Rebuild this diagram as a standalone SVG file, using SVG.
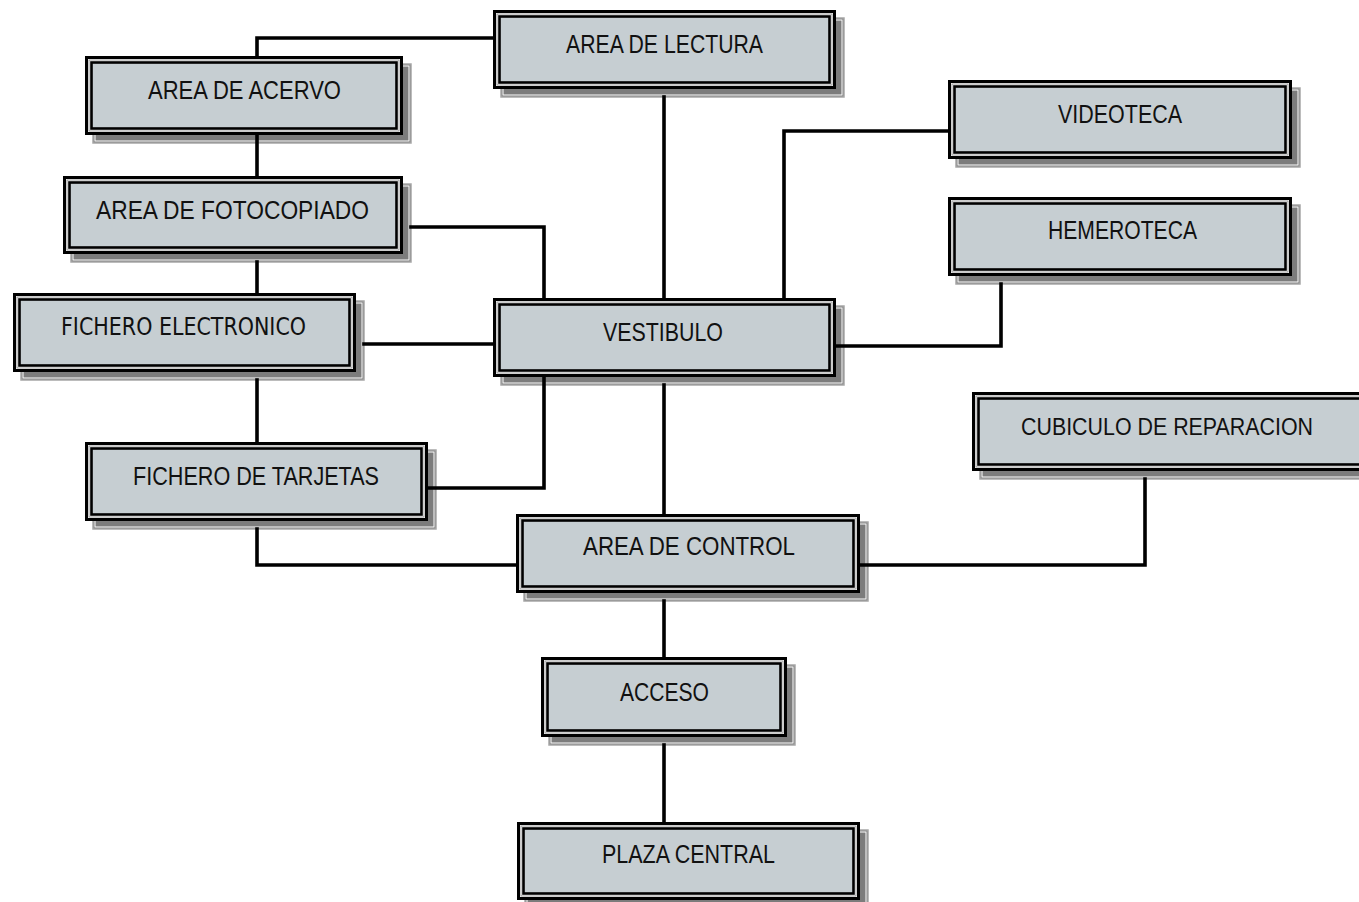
<svg xmlns="http://www.w3.org/2000/svg" width="1359" height="902" viewBox="0 0 1359 902">
  <style>
    .shadow { fill: #7c7c7c; stroke: #a6a6a6; stroke-width: 1.5; }
    .shadow-line { fill: none; stroke: #ffffff; stroke-width: 1; }
    .frame { fill: #ffffff; stroke: #000000; stroke-width: 3; }
    .frame-line { fill: none; stroke: #9a9a9a; stroke-width: 1; }
    .panel { fill: #c6ced2; stroke: #000000; stroke-width: 2.6; }
    .label { font-family: "Liberation Sans", "DejaVu Sans", sans-serif; font-size: 26px; fill: #111111; }
    .label-alt { font-family: "DejaVu Sans", "Liberation Sans", sans-serif; font-size: 25px; fill: #111111; }
    .label-small { font-size: 23px; }
    .link { fill: none; stroke: #000000; stroke-width: 3.6; stroke-linejoin: miter; stroke-linecap: square; }
  </style>
  <rect width="1359" height="902" fill="#ffffff"/>

  <!-- room boxes: drop shadow, outer frame, inner panel, label -->
  <g id="area-lectura">
    <rect class="shadow" x="501" y="18" width="343" height="79"/>
    <rect class="shadow-line" x="503" y="20" width="339" height="75"/>
    <rect class="frame" x="494.5" y="11.5" width="340" height="76"/>
    <rect class="frame-line" x="497" y="14" width="335" height="71"/>
    <rect class="panel" x="499.5" y="16.5" width="330" height="66"/>
    <text class="label" x="566" y="53" textLength="197" lengthAdjust="spacingAndGlyphs">AREA DE LECTURA</text>
  </g>

  <g id="area-acervo">
    <rect class="shadow" x="93" y="64" width="318" height="79"/>
    <rect class="shadow-line" x="95" y="66" width="314" height="75"/>
    <rect class="frame" x="86.5" y="57.5" width="315" height="76"/>
    <rect class="frame-line" x="89" y="60" width="310" height="71"/>
    <rect class="panel" x="91.5" y="62.5" width="305" height="66"/>
    <text class="label" x="148" y="99" textLength="193" lengthAdjust="spacingAndGlyphs">AREA DE ACERVO</text>
  </g>

  <g id="area-fotocopiado">
    <rect class="shadow" x="71" y="184" width="340" height="78"/>
    <rect class="shadow-line" x="73" y="186" width="336" height="74"/>
    <rect class="frame" x="64.5" y="177.5" width="337" height="75"/>
    <rect class="frame-line" x="67" y="180" width="332" height="70"/>
    <rect class="panel" x="69.5" y="182.5" width="327" height="65"/>
    <text class="label" x="96" y="219" textLength="273" lengthAdjust="spacingAndGlyphs">AREA DE FOTOCOPIADO</text>
  </g>

  <g id="fichero-electronico">
    <rect class="shadow" x="21" y="301" width="343" height="79"/>
    <rect class="shadow-line" x="23" y="303" width="339" height="75"/>
    <rect class="frame" x="14.5" y="294.5" width="340" height="76"/>
    <rect class="frame-line" x="17" y="297" width="335" height="71"/>
    <rect class="panel" x="19.5" y="299.5" width="330" height="66"/>
    <text class="label-alt" x="61" y="335" textLength="245" lengthAdjust="spacingAndGlyphs">FICHERO ELECTRONICO</text>
  </g>

  <g id="vestibulo">
    <rect class="shadow" x="501" y="306" width="343" height="79"/>
    <rect class="shadow-line" x="503" y="308" width="339" height="75"/>
    <rect class="frame" x="494.5" y="299.5" width="340" height="76"/>
    <rect class="frame-line" x="497" y="302" width="335" height="71"/>
    <rect class="panel" x="499.5" y="304.5" width="330" height="66"/>
    <text class="label" x="603" y="341" textLength="120" lengthAdjust="spacingAndGlyphs">VESTIBULO</text>
  </g>

  <g id="videoteca">
    <rect class="shadow" x="956" y="88" width="344" height="79"/>
    <rect class="shadow-line" x="958" y="90" width="340" height="75"/>
    <rect class="frame" x="949.5" y="81.5" width="341" height="76"/>
    <rect class="frame-line" x="952" y="84" width="336" height="71"/>
    <rect class="panel" x="954.5" y="86.5" width="331" height="66"/>
    <text class="label" x="1058" y="123" textLength="124" lengthAdjust="spacingAndGlyphs">VIDEOTECA</text>
  </g>

  <g id="hemeroteca">
    <rect class="shadow" x="956" y="205" width="344" height="79"/>
    <rect class="shadow-line" x="958" y="207" width="340" height="75"/>
    <rect class="frame" x="949.5" y="198.5" width="341" height="76"/>
    <rect class="frame-line" x="952" y="201" width="336" height="71"/>
    <rect class="panel" x="954.5" y="203.5" width="331" height="66"/>
    <text class="label" x="1048" y="239" textLength="149" lengthAdjust="spacingAndGlyphs">HEMEROTECA</text>
  </g>

  <g id="cubiculo-reparacion">
    <rect class="shadow" x="980" y="400" width="400" height="79"/>
    <rect class="shadow-line" x="982" y="402" width="396" height="75"/>
    <rect class="frame" x="973.5" y="393.5" width="400" height="76"/>
    <rect class="frame-line" x="976" y="396" width="400" height="71"/>
    <rect class="panel" x="978.5" y="398.5" width="400" height="66"/>
    <text class="label label-small" x="1021" y="435" textLength="292" lengthAdjust="spacingAndGlyphs">CUBICULO DE REPARACION</text>
  </g>

  <g id="fichero-tarjetas">
    <rect class="shadow" x="93" y="450" width="343" height="79"/>
    <rect class="shadow-line" x="95" y="452" width="339" height="75"/>
    <rect class="frame" x="86.5" y="443.5" width="340" height="76"/>
    <rect class="frame-line" x="89" y="446" width="335" height="71"/>
    <rect class="panel" x="91.5" y="448.5" width="330" height="66"/>
    <text class="label" x="133" y="485" textLength="246" lengthAdjust="spacingAndGlyphs">FICHERO DE TARJETAS</text>
  </g>

  <g id="area-control">
    <rect class="shadow" x="524" y="522" width="344" height="79"/>
    <rect class="shadow-line" x="526" y="524" width="340" height="75"/>
    <rect class="frame" x="517.5" y="515.5" width="341" height="76"/>
    <rect class="frame-line" x="520" y="518" width="336" height="71"/>
    <rect class="panel" x="522.5" y="520.5" width="331" height="66"/>
    <text class="label" x="583" y="555" textLength="212" lengthAdjust="spacingAndGlyphs">AREA DE CONTROL</text>
  </g>

  <g id="acceso">
    <rect class="shadow" x="549" y="665" width="246" height="80"/>
    <rect class="shadow-line" x="551" y="667" width="242" height="76"/>
    <rect class="frame" x="542.5" y="658.5" width="243" height="77"/>
    <rect class="frame-line" x="545" y="661" width="238" height="72"/>
    <rect class="panel" x="547.5" y="663.5" width="233" height="67"/>
    <text class="label" x="620" y="701" textLength="89" lengthAdjust="spacingAndGlyphs">ACCESO</text>
  </g>

  <g id="plaza-central">
    <rect class="shadow" x="525" y="830" width="343" height="78"/>
    <rect class="shadow-line" x="527" y="832" width="339" height="74"/>
    <rect class="frame" x="518.5" y="823.5" width="340" height="75"/>
    <rect class="frame-line" x="521" y="826" width="335" height="70"/>
    <rect class="panel" x="523.5" y="828.5" width="330" height="65"/>
    <text class="label" x="602" y="863" textLength="173" lengthAdjust="spacingAndGlyphs">PLAZA CENTRAL</text>
  </g>

  <!-- connectors -->
  <g id="connectors">
    <path class="link" d="M257 56 V38 H493"/>
    <path class="link" d="M257 135 V176"/>
    <path class="link" d="M257 262 V293"/>
    <path class="link" d="M257 380 V442"/>
    <path class="link" d="M411 227 H544 V298"/>
    <path class="link" d="M664 97 V298"/>
    <path class="link" d="M948 131 H784 V298"/>
    <path class="link" d="M1001 284 V346 H836"/>
    <path class="link" d="M364 344 H493"/>
    <path class="link" d="M544 377 V488 H428"/>
    <path class="link" d="M664 385 V514"/>
    <path class="link" d="M257 529 V565 H516"/>
    <path class="link" d="M860 565 H1145 V479"/>
    <path class="link" d="M664 601 V657"/>
    <path class="link" d="M664 745 V822"/>
  </g>
</svg>
